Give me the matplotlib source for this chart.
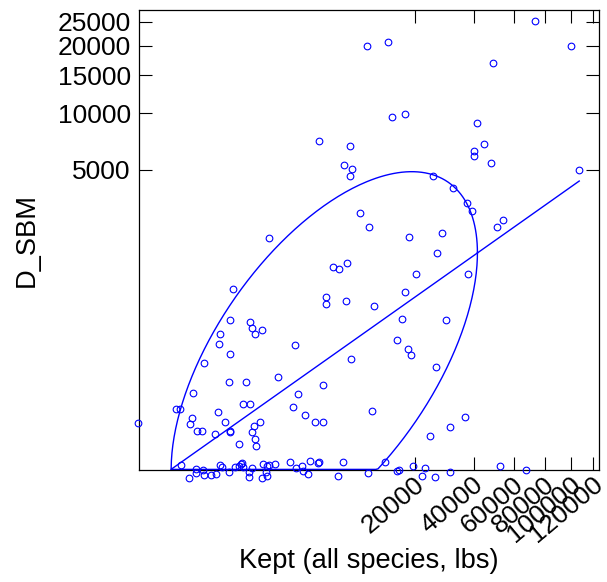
import numpy as np
import matplotlib
matplotlib.use("Agg")
import matplotlib.pyplot as plt
from matplotlib.transforms import ScaledTranslation

plt.rcParams['font.family'] = ['Liberation Sans', 'DejaVu Sans']

# power transforms used on the two axes
PX = 0.277
PY = 0.25

# catches
kept = [10010, 13810, 73120, 100300, 49140, 14690, 17510, 41470, 44650, 40380,
        40160, 47850, 107400, 25100, 31920, 37220, 39170, 54150, 50850, 18550,
        27880, 26350, 20260, 37630, 17440, 11170, 16890, 29440, 15760, 18160,
        18900, 25940, 10880, 24200, 30630, 36410, 4330, 7610, 6870, 7920,
        7610, 8990, 10380, 1330, 7270, 5600, 6280, 420, 4960, 4910,
        7150, 378, 761, 819, 899, 1099, 244, 236, 370, 2560,
        115, 7710, 1716, 364, 674, 59.5, 15.8, 22.0, 609, 753,
        223, 53.6, 47.7, 0, 302, 73.9, 101, 194, 374, 378,
        524, 872, 1036, 819, 891, 910, 2758, 2458, 3198, 3970,
        4658, 4630]
d_sbm = [19940, 20710, 25090, 20050, 16970, 9560, 9960, 8990, 7000, 6400,
         6030, 5510, 5000, 4590, 3900, 3130, 2790, 2410, 2140, 1806,
         1943, 1365, 907, 901, 612, 447, 318, 310, 174.5, 130.7,
         106.6, 69.2, 7.24, 0.747, 2.07, 4.80, 7210, 6780, 5340, 5090,
         4610, 2680, 2160, 1784, 1123, 1038, 1009, 663, 546, 466,
         500, 310, 294, 251, 209, 237, 209, 154, 109, 150,
         79.8, 92.5, 45.4, 35.8, 35.8, 20.9, 8.12, 8.45, 11.4, 11.4,
         6.76, 4.24, 2.57, 2.81, 3.14, 1.40, 1.35, 0.98, 1.40, 1.18,
         0.259, 2.21, 3.22, 1.26, 0.553, 0.177, 19.8, 9.62, 5.33, 3.22,
         3.22, 32.0]

# the (jittered) zero-discard trips along the bottom
kept_zero = [24.0, 70.8, 69.4, 105, 115, 44.5, 162, 206, 250, 264,
             355, 453, 524, 562, 576, 609, 804, 729, 729, 1141,
             1257, 1351, 1588, 1232, 1278, 1090, 2292, 2636, 2994, 3102,
             3454, 3580, 4192, 4278, 6172, 6784, 10220, 13280, 15760, 16200,
             19490, 21890, 22820, 25630, 30730, 52820, 67510]
d_sbm_zero = [3.0e-4, 1.5e-7, -7.4e-5, -8e-8, -6.1e-4, -2.95e-3, -7.5e-4, -3.6e-4, 2.3e-4, 3.3e-5,
              -2.8e-5, 1.2e-5, 1.17e-4, 4.2e-4, 8.6e-4, 3.3e-5, 9e-7, -4.4e-5, -2.42e-3, 5.3e-4,
              1.17e-4, 3.0e-4, 6.6e-4, -4.4e-5, -1.18e-3, -2.95e-3, 1.87e-3, 5.2e-6, 5.7e-5, -8.1e-6,
              -2.8e-4, 2.68e-3, 8.6e-4, 1.58e-3, -9.8e-4, 2.19e-3, -1.44e-4, 1.58e-3, -1.8e-6, -4e-7,
              8.3e-5, -9.8e-4, 4e-7, -2.08e-3, -2.1e-5, 6.5e-5, -9e-7]

x_ticks = [20000, 40000, 60000, 80000, 100000, 120000]
y_ticks = [5000, 10000, 15000, 20000, 25000]

# data ellipse on the transformed scale (centre, sds, correlation)
ell_center = (10.45, 3.04)
ell_sd = (8.59, 5.32)
ell_rho = 0.571


def fwd(p):
    return lambda v: np.sign(v) * np.abs(v) ** p


def inv(p):
    return lambda t: np.sign(t) * np.abs(t) ** (1.0 / p)


fig = plt.figure(figsize=(6.07, 5.82), dpi=100)
ax = fig.add_axes([139 / 607, 112 / 582, 460 / 607, 460 / 582])
ax.set_xscale('function', functions=(fwd(PX), inv(PX)))
ax.set_yscale('function', functions=(fwd(PY), inv(PY)))

x_all = np.array(kept + kept_zero, dtype=float)
y_all = np.array(d_sbm + d_sbm_zero, dtype=float)
ax.plot(x_all, y_all, 'o', mfc='none', mec='blue', ms=4.8, mew=0.8,
        clip_on=False, zorder=3)

# ellipse, computed in transformed units, floored at zero
t = np.linspace(0, 2 * np.pi, 400)
ex = ell_center[0] + ell_sd[0] * np.cos(t)
ey = ell_center[1] + ell_sd[1] * (ell_rho * np.cos(t) + np.sqrt(1 - ell_rho ** 2) * np.sin(t))
ey = np.maximum(ey, 0)
ax.plot(inv(PX)(ex), inv(PY)(ey), color='blue', lw=1.0, zorder=2)

# regression line through the ellipse
slope = ell_rho * ell_sd[1] / ell_sd[0]
icpt = ell_center[1] - slope * ell_center[0]
lx0 = -icpt / slope
lx1 = fwd(PX)(x_all.max())
lx = np.array([lx0, lx1])
ax.plot(inv(PX)(lx), inv(PY)(icpt + slope * lx), color='blue', lw=1.0, zorder=2)

ax.set_xlim(inv(PX)(0.056), inv(PX)(25.86))
ax.set_ylim(inv(PY)(-0.017), inv(PY)(12.90))

ax.set_xticks(x_ticks)
ax.set_xticklabels([str(v) for v in x_ticks])
ax.set_yticks(y_ticks)
ax.set_yticklabels([str(v) for v in y_ticks])
ax.minorticks_off()

ax.tick_params(direction='in', length=9.4, width=0.8, top=True, right=True,
               labelsize=19, colors='black')
ax.tick_params(axis='y', pad=5.8)
ax.tick_params(axis='x', pad=1.5)
for lab in ax.get_xticklabels():
    lab.set_rotation(40)
    lab.set_ha('right')
    lab.set_va('top')
    lab.set_rotation_mode('anchor')
    lab.set_transform(lab.get_transform() + ScaledTranslation(-0.01, 0, fig.dpi_scale_trans))

for sp in ax.spines.values():
    sp.set_linewidth(0.9)

ax.set_xlabel('Kept (all species, lbs)', fontsize=19.6, va='center')
ax.xaxis.set_label_coords(0.5, -0.198)
ax.set_ylabel('D_SBM', fontsize=19.6, va='center')
ax.yaxis.set_label_coords(-0.2435, 0.5)

fig.savefig('out.png', dpi=100)
